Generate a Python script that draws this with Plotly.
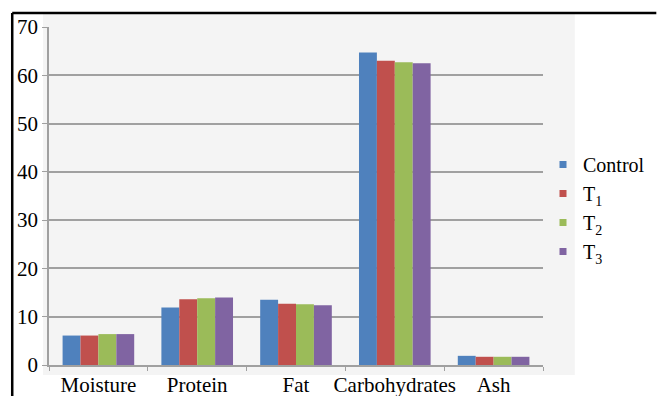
import plotly.graph_objects as go

# Proximate composition (%) per treatment
components = ["Moisture", "Protein", "Fat", "Carbohydrates", "Ash"]
control = [6.1, 11.9, 13.5, 64.7, 1.9]
t1 = [6.1, 13.6, 12.7, 63.0, 1.7]
t2 = [6.4, 13.8, 12.6, 62.7, 1.7]
t3 = [6.4, 14.0, 12.4, 62.5, 1.7]

series = [
    ("Control", control, "#4F81BD"),
    ("T<sub>1</sub>", t1, "#C0504D"),
    ("T<sub>2</sub>", t2, "#9BBB59"),
    ("T<sub>3</sub>", t3, "#8064A2"),
]

W, H = 657, 396
L, R, T, B = 49, 111, 27, 31
PW, PH = W - L - R, H - T - B


def px_x(x):
    return (x - L) / PW


def px_y(y):
    return (H - B - y) / PH


FONT = "Liberation Serif"

fig = go.Figure()
for name, vals, col in series:
    fig.add_trace(go.Bar(x=components, y=vals, name=name, marker_color=col,
                         marker_line_width=0, showlegend=False))
    # small square swatch for the legend
    fig.add_trace(go.Scatter(x=[None], y=[None], mode="markers", name=name,
                             marker=dict(symbol="square", size=7, color=col)))

fig.update_layout(
    width=W, height=H,
    margin=dict(l=L, r=R, t=T, b=B),
    paper_bgcolor="white",
    plot_bgcolor="rgba(0,0,0,0)",
    barmode="group",
    bargap=0.275,
    bargroupgap=0,
    font=dict(family=FONT, size=20, color="black"),
    legend=dict(xref="container", yref="container",
                x=543 / W, y=1 - 208 / H, xanchor="left", yanchor="middle",
                bgcolor="rgba(0,0,0,0)", font=dict(family=FONT, size=20),
                itemwidth=30, tracegroupgap=0),
    showlegend=True,
    shapes=[
        # light panel behind the plot
        dict(type="rect", xref="paper", yref="paper", layer="below",
             x0=px_x(43), x1=px_x(578), y0=px_y(375), y1=px_y(13),
             fillcolor="#f4f4f4", line_width=0),
        # frame
        dict(type="line", xref="paper", yref="paper",
             x0=px_x(12), x1=px_x(660), y0=px_y(13), y1=px_y(13),
             line=dict(color="black", width=2.5)),
        dict(type="line", xref="paper", yref="paper",
             x0=px_x(12), x1=px_x(12), y0=px_y(13), y1=px_y(400),
             line=dict(color="black", width=2.5)),
    ],
)

fig.update_xaxes(
    automargin=False,
    showline=True, linecolor="#a0a0a0", linewidth=1.5,
    ticks="outside", ticklen=4, tickcolor="#a0a0a0", tickson="boundaries",
    showgrid=False, tickangle=0, ticklabelstandoff=0,
    tickfont=dict(family=FONT, size=21),
)
fig.update_yaxes(
    automargin=False,
    range=[0, 70], dtick=10,
    showline=True, linecolor="#a0a0a0", linewidth=1.5,
    ticks="outside", ticklen=5, tickcolor="#a0a0a0",
    showgrid=True, gridcolor="#a0a0a0", gridwidth=1.5,
    zeroline=False, tickfont=dict(family=FONT, size=21),
)

fig.write_html("out.html")
